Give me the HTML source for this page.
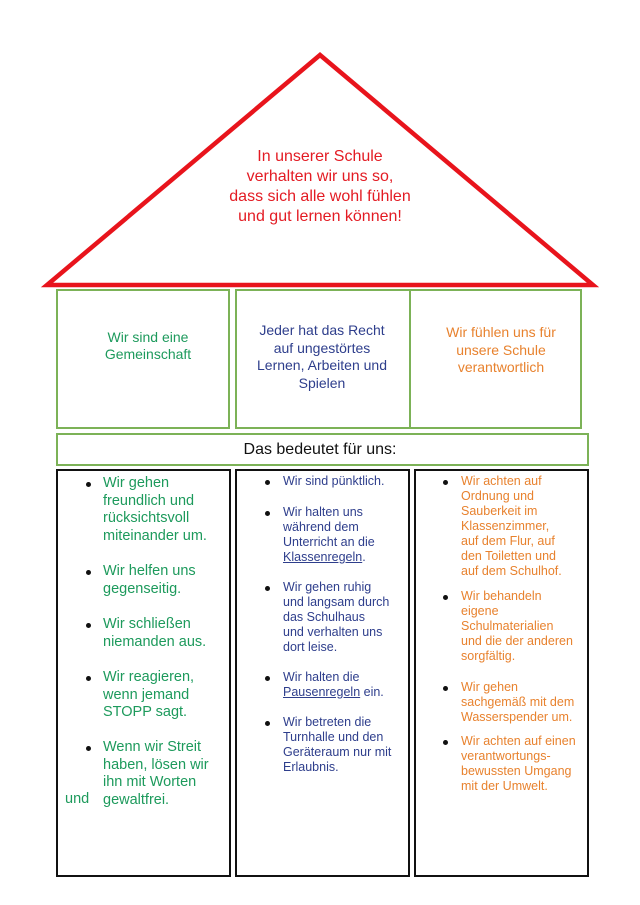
<!DOCTYPE html>
<html><head><meta charset="utf-8"><style>
body{margin:0;width:640px;height:905px;background:#fff;position:relative;font-family:"Liberation Sans",sans-serif;overflow:hidden}
.b{position:absolute;box-sizing:border-box}
.g{border:2px solid #7cb257}
.k{border:2px solid #111}
.t{position:absolute;white-space:nowrap;line-height:18px}
.c{transform:translateX(-50%);text-align:center}
.c1{color:#1d9a5c;font-size:14.5px}
.c2{color:#2e3e8c;font-size:12.5px}
.c3{color:#e8822e;font-size:12.5px}
.d{position:absolute;width:5px;height:5px;border-radius:50%;background:#111}
u{text-decoration:underline}
</style></head><body>
<svg class="b" style="left:0;top:0" width="640" height="300"><polygon points="320,55 47,285 593,285" fill="none" stroke="#e8141c" stroke-width="4.5" stroke-linejoin="miter"/></svg>
<div class="t c" style="left:320px;top:147px;color:#e31b23;font-size:16px;line-height:20px">In unserer Schule<br>verhalten wir uns so,<br>dass sich alle wohl fühlen<br>und gut lernen können!</div>

<div class="b g" style="left:56px;top:289px;width:174px;height:140px"></div>
<div class="b g" style="left:235px;top:289px;width:176px;height:140px"></div>
<div class="b g" style="left:409px;top:289px;width:173px;height:140px"></div>
<div class="t c c1" style="left:148px;top:329px;font-size:14px;line-height:17px">Wir sind eine<br>Gemeinschaft</div>
<div class="t c c2" style="left:322px;top:322px;font-size:14px;line-height:17.5px">Jeder hat das Recht<br>auf ungestörtes<br>Lernen, Arbeiten und<br>Spielen</div>
<div class="t c c3" style="left:501px;top:324px;font-size:14px;line-height:17.5px">Wir fühlen uns für<br>unsere Schule<br>verantwortlich</div>

<div class="b g" style="left:56px;top:433px;width:533px;height:33px"></div>
<div class="t c" style="left:320px;top:441px;font-size:16px;color:#111">Das bedeutet für uns:</div>

<div class="b k" style="left:56px;top:469px;width:175px;height:408px"></div>
<div class="b k" style="left:235px;top:469px;width:175px;height:408px"></div>
<div class="b k" style="left:414px;top:469px;width:175px;height:408px"></div>

<div class="d" style="left:86px;top:482px"></div>
<div class="d" style="left:86px;top:570px"></div>
<div class="d" style="left:86px;top:623px"></div>
<div class="d" style="left:86px;top:676px"></div>
<div class="d" style="left:86px;top:746px"></div>
<div class="t c1" style="left:103px;top:475px;line-height:17.5px">Wir gehen<br>freundlich und<br>rücksichtsvoll<br>miteinander um.</div>
<div class="t c1" style="left:103px;top:563px;line-height:17.5px">Wir helfen uns<br>gegenseitig.</div>
<div class="t c1" style="left:103px;top:616px;line-height:17.5px">Wir schließen<br>niemanden aus.</div>
<div class="t c1" style="left:103px;top:669px;line-height:17.5px">Wir reagieren,<br>wenn jemand<br>STOPP sagt.</div>
<div class="t c1" style="left:103px;top:739px;line-height:17.5px">Wenn wir Streit<br>haben, lösen wir<br>ihn mit Worten<br>gewaltfrei.</div>
<div class="t c1" style="left:65px;top:791px;line-height:17.5px">und</div>

<div class="d" style="left:265px;top:480px"></div>
<div class="d" style="left:265px;top:511px"></div>
<div class="d" style="left:265px;top:586px"></div>
<div class="d" style="left:265px;top:676px"></div>
<div class="d" style="left:265px;top:721px"></div>
<div class="t c2" style="left:283px;top:474px;line-height:15px">Wir sind pünktlich.</div>
<div class="t c2" style="left:283px;top:505px;line-height:15px">Wir halten uns<br>während dem<br>Unterricht an die<br><u>Klassenregeln</u>.</div>
<div class="t c2" style="left:283px;top:580px;line-height:15px">Wir gehen ruhig<br>und langsam durch<br>das Schulhaus<br>und verhalten uns<br>dort leise.</div>
<div class="t c2" style="left:283px;top:670px;line-height:15px">Wir halten die<br><u>Pausenregeln</u> ein.</div>
<div class="t c2" style="left:283px;top:715px;line-height:15px">Wir betreten die<br>Turnhalle und den<br>Geräteraum nur mit<br>Erlaubnis.</div>

<div class="d" style="left:443px;top:480px"></div>
<div class="d" style="left:443px;top:595px"></div>
<div class="d" style="left:443px;top:686px"></div>
<div class="d" style="left:443px;top:740px"></div>
<div class="t c3" style="left:461px;top:474px;line-height:15px">Wir achten auf<br>Ordnung und<br>Sauberkeit im<br>Klassenzimmer,<br>auf dem Flur, auf<br>den Toiletten und<br>auf dem Schulhof.</div>
<div class="t c3" style="left:461px;top:589px;line-height:15px">Wir behandeln<br>eigene<br>Schulmaterialien<br>und die der anderen<br>sorgfältig.</div>
<div class="t c3" style="left:461px;top:680px;line-height:15px">Wir gehen<br>sachgemäß mit dem<br>Wasserspender um.</div>
<div class="t c3" style="left:461px;top:734px;line-height:15px">Wir achten auf einen<br>verantwortungs-<br>bewussten Umgang<br>mit der Umwelt.</div>
</body></html>
